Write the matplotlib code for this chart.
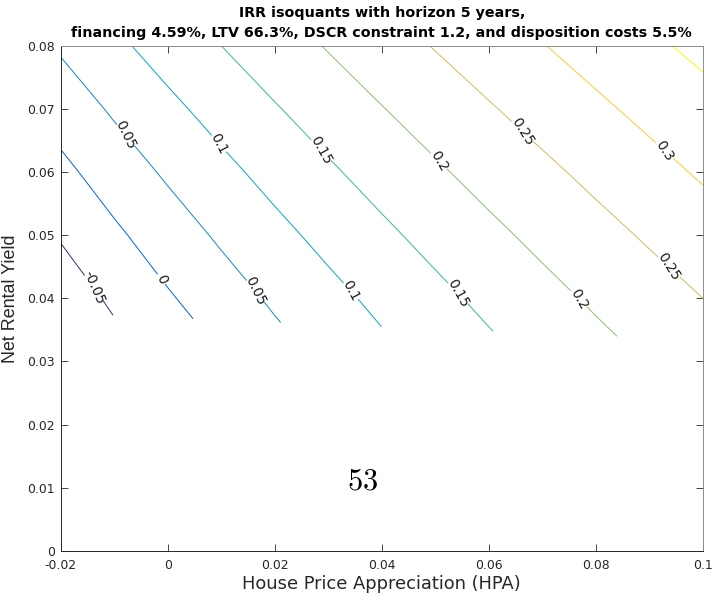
import numpy as np
import matplotlib
matplotlib.use('Agg')
import matplotlib.pyplot as plt
from matplotlib.colors import LinearSegmentedColormap

# grid of the IRR surface
hpa = np.array([-0.02, -0.01, 0.0, 0.01, 0.02, 0.03, 0.04,
                0.05, 0.06, 0.07, 0.08, 0.09, 0.10])
rent_yield = np.array([0.08, 0.07, 0.06, 0.05, 0.04])
# lowest net yield that still passes DSCR 1.2, for each hpa column
dscr_floor = np.array([0.0376, 0.0373, 0.0369, 0.0366, 0.0362, 0.0359, 0.0355,
                       0.0352, 0.0348, 0.0345, 0.0341, 0.0338, 0.0334])

irr = np.array([
    [0.0562, 0.0900, 0.1207, 0.1501, 0.1769, 0.2034, 0.2282,
     0.2527, 0.2756, 0.2984, 0.3199, 0.3414, 0.3620],
    [0.0217, 0.0566, 0.0887, 0.1183, 0.1467, 0.1727, 0.1984,
     0.2224, 0.2462, 0.2688, 0.2913, 0.3127, 0.3335],
    [-0.0120, 0.0237, 0.0570, 0.0875, 0.1161, 0.1434, 0.1688,
     0.1936, 0.2170, 0.2399, 0.2623, 0.2844, 0.3059],
    [-0.0458, -0.0085, 0.0254, 0.0573, 0.0865, 0.1141, 0.1404,
     0.1652, 0.1891, 0.2120, 0.2341, 0.2561, 0.2777],
    [-0.0791, -0.0409, -0.0052, 0.0270, 0.0577, 0.0855, 0.1122,
     0.1376, 0.1618, 0.1849, 0.2074, 0.2287, 0.2500],
    [-0.0872, -0.0492, -0.0152, 0.0169, 0.0470, 0.0739, 0.1002,
     0.1243, 0.1482, 0.1703, 0.1918, 0.2126, 0.2324],
])

irr_levels = [-0.05, 0, 0.05, 0.1, 0.15, 0.2, 0.25, 0.3, 0.35]

xticks = [-0.02, 0, 0.02, 0.04, 0.06, 0.08, 0.1]
xtick_labels = ['-0.02', '0', '0.02', '0.04', '0.06', '0.08', '0.1']
yticks = [0, 0.01, 0.02, 0.03, 0.04, 0.05, 0.06, 0.07, 0.08]
ytick_labels = ['0', '0.01', '0.02', '0.03', '0.04', '0.05', '0.06', '0.07', '0.08']

# where matlab put the inline labels
label_spots = [(-0.0142, 0.0416), (-0.0017, 0.0429),
               (-0.0086, 0.0656), (0.0150, 0.0408),
               (0.0085, 0.0642), (0.0337, 0.0410),
               (0.0278, 0.0632), (0.0533, 0.0405),
               (0.0496, 0.0614), (0.0761, 0.0397),
               (0.0653, 0.0661), (0.0929, 0.0447),
               (0.0922, 0.0632)]

# matlab parula, a few of its 64 entries
parula = LinearSegmentedColormap.from_list('parula', [
    (0 / 63, (0.2081, 0.1663, 0.5292)),
    (4 / 63, (0.1959, 0.2645, 0.7279)),
    (8 / 63, (0.0117, 0.3875, 0.8820)),
    (16 / 63, (0.0793, 0.5200, 0.8312)),
    (24 / 63, (0.0228, 0.6535, 0.7768)),
    (32 / 63, (0.2178, 0.7250, 0.6193)),
    (40 / 63, (0.5709, 0.7485, 0.4494)),
    (48 / 63, (0.8507, 0.7299, 0.3360)),
    (53 / 63, (0.9938, 0.7455, 0.2403)),
    (56 / 63, (0.9880, 0.8066, 0.1794)),
    (63 / 63, (0.9763, 0.9831, 0.0538))])

X = np.tile(hpa, (len(rent_yield) + 1, 1))
Y = np.vstack([np.tile(rent_yield[:, None], (1, len(hpa))), dscr_floor])

fig = plt.figure(figsize=(7.15, 5.98), dpi=100)
ax = fig.add_axes([0.0848, 0.0786, 0.8984, 0.8453])

cs = ax.contour(X, Y, irr, levels=irr_levels, cmap=parula,
                vmin=min(irr_levels), vmax=max(irr_levels), linewidths=0.7)
lbls = ax.clabel(cs, manual=label_spots, fmt=lambda v: f'{v:g}',
                 fontsize=9.8, colors='#1a1a1a', inline=True, inline_spacing=5)
for t in lbls:
    t.set_family('DejaVu Sans')

ax.text(0.0365, 0.011, '$53$', fontsize=22, ha='center', va='center',
        math_fontfamily='cm')

ax.set_xlim(-0.02, 0.1)
ax.set_ylim(0, 0.08)
ax.set_xticks(xticks, labels=xtick_labels)
ax.set_yticks(yticks, labels=ytick_labels)
ax.tick_params(direction='in', length=5, width=0.6, top=True, right=True,
               labelsize=8.9, colors='#262626')
ax.tick_params(axis='x', pad=6)
ax.tick_params(axis='y', pad=4)
for lab in ax.get_xticklabels() + ax.get_yticklabels():
    lab.set_family('DejaVu Sans')
for side in ['left', 'bottom']:
    ax.spines[side].set_color('#262626')
    ax.spines[side].set_linewidth(0.7)
for side in ['top', 'right']:
    ax.spines[side].set_color('#8c8c8c')
    ax.spines[side].set_linewidth(0.7)

ax.set_xlabel('House Price Appreciation (HPA)', fontsize=12.9,
              family='DejaVu Sans', color='#262626', labelpad=2)
ax.set_ylabel('Net Rental Yield', fontsize=12.9, family='Liberation Sans',
              color='#262626', labelpad=6)
ax.set_title('IRR isoquants with horizon 5 years,\n'
             'financing 4.59%, LTV 66.3%, DSCR constraint 1.2, and disposition costs 5.5%',
             fontsize=10.25, fontweight='bold', family='DejaVu Sans', pad=6,
             linespacing=1.55)

fig.savefig('out.png', dpi=100)
